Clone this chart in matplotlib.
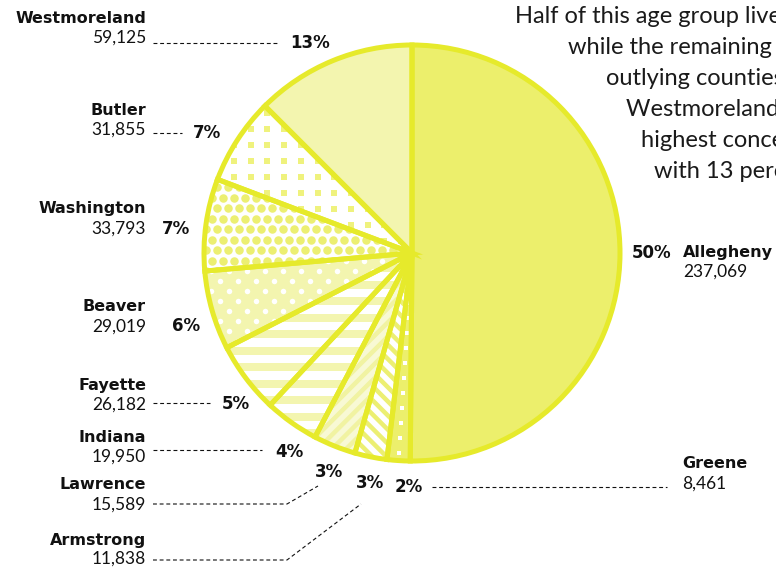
import numpy as np
import matplotlib.pyplot as plt
from matplotlib.collections import LineCollection

# data
counties = ['Allegheny', 'Greene', 'Armstrong', 'Lawrence', 'Indiana',
            'Fayette', 'Beaver', 'Washington', 'Butler', 'Westmoreland']
population = [237069, 8461, 11838, 15589, 19950, 26182, 29019, 33793, 31855, 59125]
pct_labels = ['50%', '2%', '3%', '3%', '4%', '5%', '6%', '7%', '7%', '13%']

note_lines = ['Half of this age group lives in Allegheny County,',
              'while the remaining half is spread across the',
              'outlying counties, with',
              'Westmoreland County having the',
              'highest concentration',
              'with 13 percent.']

W, H = 776, 569
EDGE = '#e6ea2b'
SOLID = '#ecef6c'
PALE = '#f3f5af'
DOT = '#ecef72'

def Y(y):
    return H - y

fig = plt.figure(figsize=(W / 100, H / 100), dpi=100)
ax = fig.add_axes([0, 0, 1, 1])

cx, cy, R = 412, Y(253), 208
faces = [SOLID, SOLID, 'white', '#f8f9d4', 'white', 'white', PALE, 'white', 'white', PALE]
wedges, _ = ax.pie(population, colors=faces, startangle=90, counterclock=False,
                   center=(cx, cy), radius=R, wedgeprops=dict(linewidth=0, zorder=1))

gx = np.arange(cx - R - 20, cx + R + 20)
gy = np.arange(cy - R - 20, cy + R + 20)


def grid(dx, dy, stagger):
    pts = []
    for i, yy in enumerate(np.arange(gy[0], gy[-1], dy)):
        off = dx / 2 if (stagger and i % 2) else 0
        for xx in np.arange(gx[0] + off, gx[-1], dx):
            pts.append((xx, yy))
    return np.array(pts)


def dots(w, dx, dy, stagger, diam_px, color, marker='o'):
    p = grid(dx, dy, stagger)
    s = (diam_px * 0.72) ** 2
    sc = ax.scatter(p[:, 0], p[:, 1], s=s, c=color, marker=marker, linewidths=0, zorder=2)
    sc.set_clip_path(w)


def stripes(w, angle, spacing, width_px, color):
    a = np.deg2rad(angle)
    d = np.array([np.cos(a), np.sin(a)])
    n = np.array([-d[1], d[0]])
    segs = []
    for k in np.arange(-R * 1.5, R * 1.5, spacing):
        c0 = np.array([cx, cy]) + n * k
        segs.append([c0 - d * R * 1.5, c0 + d * R * 1.5])
    lc = LineCollection(segs, colors=color, linewidths=width_px * 0.72, zorder=2)
    ax.add_collection(lc)
    lc.set_clip_path(w)


# textures
w = dict(zip(counties, wedges))
g = w['Greene']
mid = np.deg2rad((g.theta1 + g.theta2) / 2)
rr = np.arange(R - 8, 40, -15)
sc = ax.scatter(cx + rr * np.cos(mid), cy + rr * np.sin(mid), s=(5 * 0.72) ** 2,
                c='white', marker='s', linewidths=0, zorder=2)
sc.set_clip_path(g)
stripes(w['Armstrong'], -45, 10, 4.5, DOT)
stripes(w['Lawrence'], 45, 10, 4.5, '#f1f3a2')
stripes(w['Indiana'], 0, 16.5, 8, PALE)
stripes(w['Fayette'], 0, 16.5, 8, PALE)
dots(w['Beaver'], 18, 10, True, 5.5, 'white')
dots(w['Washington'], 11, 10.5, True, 8.5, DOT)
dots(w['Butler'], 16.7, 16, False, 6, '#eff27d', marker='s')

# outlines
ax.pie(population, startangle=90, counterclock=False, center=(cx, cy), radius=R,
       wedgeprops=dict(fill=False, edgecolor=EDGE, linewidth=3.6, zorder=3))

ax.set_xlim(0, W)
ax.set_ylim(0, H)
ax.set_aspect('equal')
ax.axis('off')

BOLD = dict(family='DejaVu Sans', weight='bold', fontsize=11.5, color='#111111')
PCT = dict(family='DejaVu Sans', weight='bold', fontsize=12, color='#111111')
LIGHT = dict(family='Lato', weight='normal', fontsize=12.5, color='#111111')

# label layout: name baseline, value baseline, pct position
left_layout = {
    'Westmoreland': (23, 43, (290, 43)),
    'Butler': (115, 135, (193, 133)),
    'Washington': (213, 234, (162, 229)),
    'Beaver': (311, 332, (172, 326)),
    'Fayette': (390, 410, (222, 404)),
    'Indiana': (442, 462, (275, 452)),
    'Lawrence': (489, 510, (315, 472)),
    'Armstrong': (545, 564, (356, 483)),
}
right_layout = {
    'Allegheny': (257, 277, (632, 253), 683),
    'Greene': (468, 489, (395, 487), 682),
}
leaders = {
    'Westmoreland': [(153, 43), (278, 43)],
    'Butler': [(153, 133), (182, 133)],
    'Fayette': [(153, 403), (210, 403)],
    'Indiana': [(153, 450), (262, 450)],
    'Lawrence': [(153, 504), (287, 504), (318, 486)],
    'Armstrong': [(153, 560), (287, 560), (361, 504)],
    'Greene': [(432, 487), (667, 487)],
}

for name, pop, pct in zip(counties, population, pct_labels):
    if name in left_layout:
        yn, yv, (px, py) = left_layout[name]
        ax.text(146, Y(yn), name, ha='right', va='baseline', **BOLD)
        ax.text(146, Y(yv), f'{pop:,}', ha='right', va='baseline', **LIGHT)
    else:
        yn, yv, (px, py), tx = right_layout[name]
        ax.text(tx, Y(yn), name, ha='left', va='baseline', **BOLD)
        ax.text(tx, Y(yv), f'{pop:,}', ha='left', va='baseline', **LIGHT)
    ax.text(px, Y(py), pct, ha='left', va='center', **PCT)
    if name in leaders:
        xs, ys = zip(*leaders[name])
        ax.plot(xs, [Y(v) for v in ys], color='#111111', lw=0.8,
                linestyle=(0, (3.5, 2.5)), zorder=4)

note_x = [515, 568, 606, 626, 641, 654]
for i, (line, x0) in enumerate(zip(note_lines, note_x)):
    ax.text(x0, Y(23 + 31 * i), line, ha='left', va='baseline',
            family='Lato', weight='normal', fontsize=17, color='#1a1a1a')

fig.savefig('out.png', dpi=100)
